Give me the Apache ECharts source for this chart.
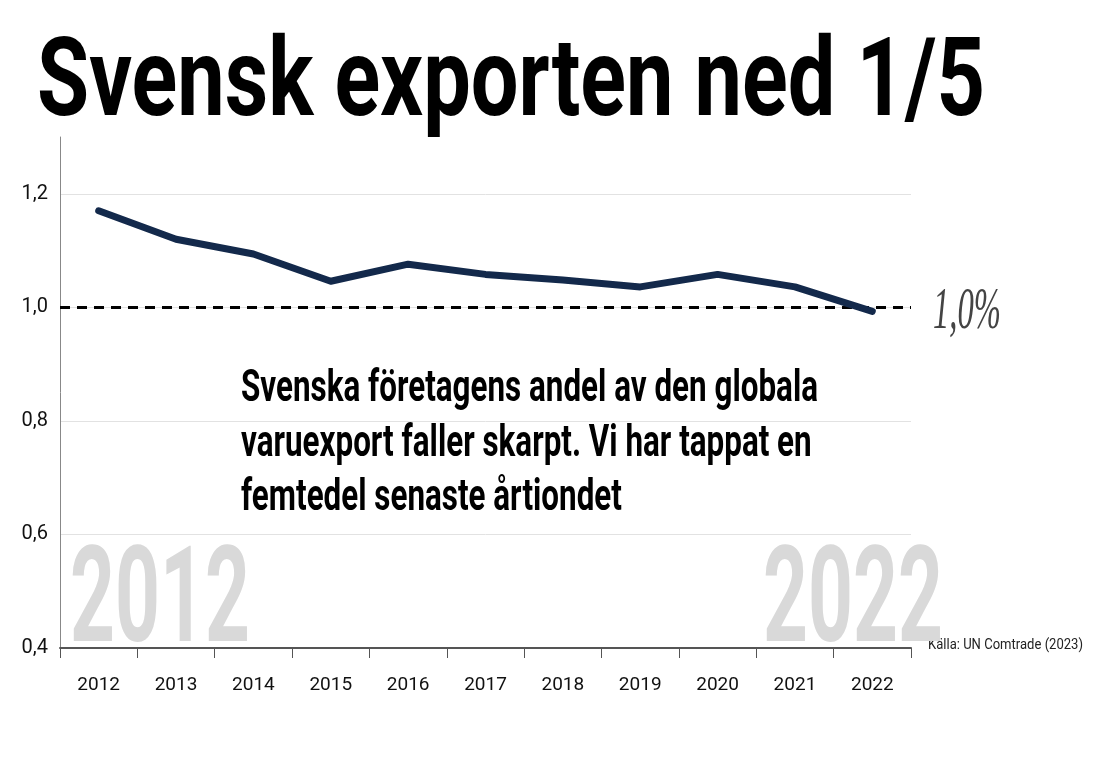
<!DOCTYPE html>
<html>
<head>
	<meta charset="utf-8">
	<title>Svensk exporten ned 1/5</title>
	<script src="https://cdn.jsdelivr.net/npm/echarts@6/dist/echarts.min.js"></script>
	<style>
		html, body { margin: 0; padding: 0; background: #fff; }
		#chart { width: 1116px; height: 778px; }
	</style>
</head>
<body>
	<div id="chart"></div>
	<script>
		// data
		var years = ['2012', '2013', '2014', '2015', '2016', '2017', '2018', '2019', '2020', '2021', '2022'];
		var shares = [1.17, 1.12, 1.094, 1.046, 1.076, 1.058, 1.048, 1.036, 1.058, 1.036, 0.993];
		var refLevel = 1.0;
		var titleText = 'Svensk exporten ned 1/5';
		var noteLines = [
			'Svenska företagens andel av den globala',
			'varuexport faller skarpt. Vi har tappat en',
			'femtedel senaste årtiondet'
		];
		var sourceText = 'Källa: UN Comtrade (2023)';
		var refLabel = '1,0%';

		var labelFont = "Roboto, sans-serif";

		// measure text so we can squeeze it to the condensed width of the original
		var mctx = document.createElement('canvas').getContext('2d');
		function fitScale(text, font, width) {
			mctx.font = font;
			return width / mctx.measureText(text).width;
		}

		var titleScale = fitScale(titleText, 'bold 110px Roboto', 948);
		var noteScale = fitScale(noteLines[0], 'bold 45px Roboto', 577);
		var wmScale = fitScale('2012', 'bold 134px Roboto', 180);
		var srcScale = fitScale(sourceText, '15px Roboto', 155);
		var refScale = fitScale(refLabel, 'italic 60px "Liberation Serif"', 68);

		var graphics = [
			{
				type: 'text', x: 37, y: 87, scaleX: titleScale,
				style: { text: titleText, fontSize: 110, fontWeight: 'bold', fontFamily: 'Roboto', fill: '#000', align: 'left', verticalAlign: 'middle' }
			},
			{
				type: 'text', x: 70, y: 607, scaleX: wmScale, z: 100,
				style: { text: '2012', fontSize: 134, fontWeight: 'bold', fontFamily: 'Roboto', fill: '#d9d9d9', align: 'left', verticalAlign: 'middle' }
			},
			{
				type: 'text', x: 928, y: 645, scaleX: srcScale, z: 50,
				style: { text: sourceText, fontSize: 15, fontFamily: 'Roboto', fill: '#222', align: 'left', verticalAlign: 'middle' }
			},
			{
				type: 'text', x: 763, y: 607, scaleX: wmScale, z: 100,
				style: { text: '2022', fontSize: 134, fontWeight: 'bold', fontFamily: 'Roboto', fill: '#d9d9d9', align: 'left', verticalAlign: 'middle' }
			},
			{
				type: 'text', x: 933, y: 312, scaleX: refScale,
				style: { text: refLabel, fontSize: 60, fontStyle: 'italic', fontFamily: 'Liberation Serif', fill: '#444', align: 'left', verticalAlign: 'middle' }
			}
		];
		noteLines.forEach(function (line, i) {
			graphics.push({
				type: 'text', x: 241, y: 390 + i * 54.5, scaleX: noteScale,
				style: { text: line, fontSize: 45, fontWeight: 'bold', fontFamily: 'Roboto', fill: '#000', align: 'left', verticalAlign: 'middle' }
			});
		});

		var chart = echarts.init(document.getElementById('chart'));
		chart.setOption({
			animation: false,
			backgroundColor: '#fff',
			grid: { left: 60, right: 205, top: 137, bottom: 130 },
			xAxis: {
				type: 'category',
				data: years,
				boundaryGap: true,
				axisLine: { lineStyle: { color: '#555', width: 2 } },
				axisTick: { show: true, length: 10, lineStyle: { color: '#555', width: 1 } },
				axisLabel: { color: '#111', fontSize: 19, fontFamily: labelFont, margin: 28 }
			},
			yAxis: {
				type: 'value',
				min: 0.4,
				max: 1.3,
				interval: 0.2,
				axisLine: { show: true, lineStyle: { color: '#888', width: 1 } },
				axisTick: { show: false },
				splitLine: { show: true, showMaxLine: false, lineStyle: { color: '#e2e2e2', width: 1 } },
				axisLabel: {
					color: '#111', fontSize: 20, fontFamily: labelFont, margin: 12,
					showMaxLabel: false,
					formatter: function (v) {
						if (Math.abs(v - 1.3) < 1e-6) return '';
						return v.toFixed(1).replace('.', ',');
					}
				}
			},
			series: [{
				type: 'line',
				data: shares,
				symbol: 'none',
				z: 5,
				lineStyle: { color: '#13294b', width: 7, cap: 'round', join: 'round' },
				markLine: {
					silent: true,
					symbol: 'none',
					label: { show: false },
					z: 3,
					lineStyle: { color: '#000', width: 3, type: [10, 7] },
					data: [{ yAxis: refLevel }]
				}
			}],
			graphic: graphics
		});
	</script>
</body>
</html>
